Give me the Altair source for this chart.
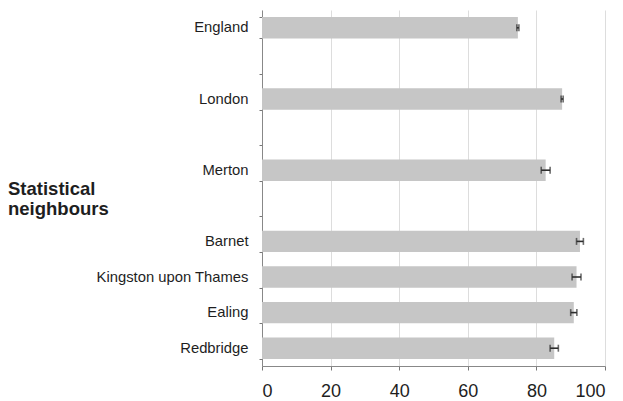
import altair as alt
import pandas as pd

# Areas shown, top to bottom; blank strings leave empty rows between groups
areas = ["England", "London", "Merton", "Barnet", "Kingston upon Thames", "Ealing", "Redbridge"]
values = [74.6, 87.5, 82.7, 92.7, 91.7, 90.9, 85.2]
margins = [0.3, 0.3, 1.3, 1.0, 1.3, 0.9, 1.2]
row_order = ["England", " ", "London", "  ", "Merton", "   ",
             "Barnet", "Kingston upon Thames", "Ealing", "Redbridge"]
x_ticks = [0, 20, 40, 60, 80, 100]

df = pd.DataFrame({"area": areas, "value": values, "margin": margins})
df["lo"] = df["value"] - df["margin"]
df["hi"] = df["value"] + df["margin"]

font = "Liberation Sans"
ink = "#1e1e1e"

y_enc = alt.Y(
    "area:N",
    sort=row_order,
    scale=alt.Scale(domain=row_order, paddingInner=0.4, paddingOuter=0.2),
    axis=alt.Axis(
        title=None, tickBand="extent", tickSize=3, tickColor="#777777",
        labelPadding=11, labelFont=font, labelFontSize=14.8, labelColor=ink,
        domainColor="#888888", grid=False,
    ),
)

x_scale = alt.Scale(domain=[0, 100], nice=False)

bars = alt.Chart(df).mark_bar(color="#c6c6c6").encode(
    x=alt.X(
        "value:Q",
        scale=x_scale,
        axis=alt.Axis(
            title=None, values=x_ticks, tickSize=4, tickColor="#777777",
            labelPadding=12, labelFont=font, labelFontSize=18, labelColor=ink,
            domainColor="#888888", gridColor="#dddddd", gridWidth=1,
        ),
    ),
    y=y_enc,
)

whiskers = alt.Chart(df).mark_rule(color="#2e2e2e", strokeWidth=1.6).encode(
    x=alt.X("lo:Q", scale=x_scale), x2="hi:Q", y=alt.Y("area:N", sort=row_order)
)

caps_lo = alt.Chart(df).mark_tick(color="#2e2e2e", thickness=1.6, size=7).encode(
    x=alt.X("lo:Q", scale=x_scale), y=alt.Y("area:N", sort=row_order)
)
caps_hi = alt.Chart(df).mark_tick(color="#2e2e2e", thickness=1.6, size=7).encode(
    x=alt.X("hi:Q", scale=x_scale), y=alt.Y("area:N", sort=row_order)
)

heading = alt.Chart(pd.DataFrame({"t": ["Statistical\nneighbours"]})).mark_text(
    align="left", baseline="alphabetic", font=font, fontSize=18.5,
    fontWeight="bold", color=ink, lineBreak="\n", lineHeight=20,
).encode(x=alt.value(-254), y=alt.value(185), text="t:N")

chart = alt.layer(bars, whiskers, caps_lo, caps_hi, heading).properties(
    width=343, height=356,
    autosize=alt.AutoSizeParams(type="none"),
    padding={"left": 262, "top": 10, "right": 18, "bottom": 35},
    background="white",
).configure_view(stroke=None)

chart.save("out.html", embed_options={"renderer": "svg", "actions": False})
